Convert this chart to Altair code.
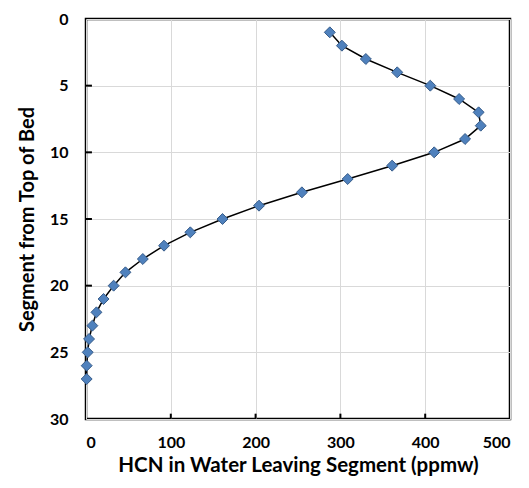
import altair as alt
import pandas as pd

segment = list(range(1, 28))
hcn = [287.5, 301.8, 330, 367, 406, 440, 463, 465.5, 447, 410.6, 361, 308.6,
       254.6, 204, 161, 123, 92, 67, 46.5, 32.6, 20.7, 12.3, 7.5, 3.6, 2.0, 0.8, 0.8]

x_ticks = [100, 200, 300, 400]
y_ticks = [5, 10, 15, 20, 25]

df = pd.DataFrame({"segment": segment, "hcn": hcn})
xt = pd.DataFrame({"v": x_ticks})
yt = pd.DataFrame({"v": y_ticks})

FONT = "Lato"

xscale = alt.Scale(domain=[0, 500], nice=False)
yscale = alt.Scale(domain=[0, 30], reverse=True, nice=False)

xaxis = alt.Axis(values=[0, 100, 200, 300, 400, 500], title="HCN in Water Leaving Segment (ppmw)",
                 grid=True, gridColor="#d9d9d9", ticks=False, domain=False,
                 labelFont=FONT, labelFontSize=16, labelFontWeight="bold", labelColor="#000000",
                 labelPadding=15, titleFont=FONT, titleFontSize=20.5, titleFontWeight="bold",
                 titleColor="#000000", titlePadding=5)
yaxis = alt.Axis(values=[0, 5, 10, 15, 20, 25, 30], title="Segment from Top of Bed",
                 grid=True, gridColor="#d9d9d9", ticks=False, domain=False,
                 labelFont=FONT, labelFontSize=16, labelFontWeight="bold", labelColor="#000000",
                 labelPadding=18, titleFont=FONT, titleFontSize=20, titleFontWeight="bold",
                 titleColor="#000000", titlePadding=12)

base = alt.Chart(df)
line = base.mark_line(color="#000000", strokeWidth=1.5).encode(
    x=alt.X("hcn:Q", scale=xscale, axis=xaxis),
    y=alt.Y("segment:Q", scale=yscale, axis=yaxis),
    order="segment:Q",
)
pts = base.mark_point(shape="diamond", filled=True, size=120, fill="#4f81bd",
                      stroke="#385d8a", strokeWidth=1, opacity=1).encode(
    x=alt.X("hcn:Q", scale=xscale),
    y=alt.Y("segment:Q", scale=yscale),
)
xtick = alt.Chart(xt).mark_rule(color="#000000", strokeWidth=2).encode(
    x=alt.X("v:Q", scale=xscale),
    y=alt.datum(30, scale=yscale),
    y2=alt.datum(29.6),
)
ytick = alt.Chart(yt).mark_rule(color="#000000", strokeWidth=2).encode(
    y=alt.Y("v:Q", scale=yscale),
    x=alt.datum(0, scale=xscale),
    x2=alt.datum(7),
)

chart = alt.layer(xtick, ytick, line, pts).properties(
    width=424, height=400,
    autosize=alt.AutoSizeParams(type="none"),
    padding={"left": 78, "top": 11, "right": 11, "bottom": 61},
    background="#ffffff",
).configure_view(stroke="#000000", strokeWidth=2.5)

chart.save("out.html", embed_options={"renderer": "svg", "actions": False})
